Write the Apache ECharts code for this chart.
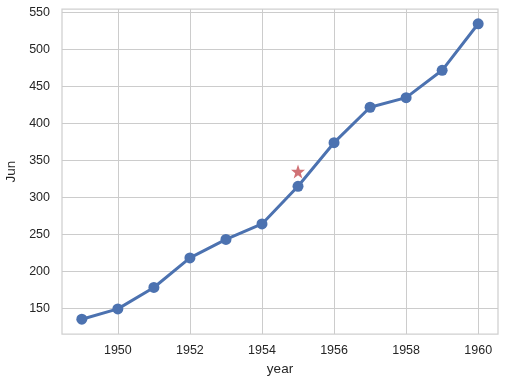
<!DOCTYPE html>
<html><head><meta charset="utf-8">
<script src="https://cdn.jsdelivr.net/npm/echarts@6/dist/echarts.min.js"></script>
<style>html,body{margin:0;padding:0;background:#fff}#c{width:507px;height:386px}</style>
</head><body><div id="c"></div>
<script>
const years = [1949,1950,1951,1952,1953,1954,1955,1956,1957,1958,1959,1960];
const jun = [135,149,178,218,243,264,315,374,422,435,472,535];
const starPoint = [[1955, 335]];
const xTicks = [1950,1952,1954,1956,1958,1960];
const yTicks = [150,200,250,300,350,400,450,500,550];

const chart = echarts.init(document.getElementById('c'), null, {renderer:'canvas'});
const font = 'Liberation Sans, Arial, sans-serif';
chart.setOption({
  animation:false,
  backgroundColor:'#fff',
  grid:{left:62,right:9,top:9,bottom:52,show:true,borderColor:'#d0d0d0',borderWidth:1.25,outerBoundsMode:'none',containLabel:false},
  xAxis:{type:'value',min:1948.45,max:1960.55,
    name:'year',nameLocation:'middle',nameGap:28,
    nameTextStyle:{color:'#262626',fontSize:13.5,fontFamily:font},
    axisLine:{show:false},
    axisTick:{show:false,customValues:xTicks},
    axisLabel:{customValues:xTicks,color:'#262626',fontSize:12.5,fontFamily:font,margin:10,formatter:v=>String(v)},
    splitLine:{show:true,lineStyle:{color:'#cccccc',width:1}}},
  yAxis:{type:'value',min:115,max:555,
    name:'Jun',nameLocation:'middle',nameGap:36,
    nameTextStyle:{color:'#262626',fontSize:13.5,fontFamily:font},
    axisLine:{show:false},
    axisTick:{show:false,customValues:yTicks},
    axisLabel:{customValues:yTicks,color:'#262626',fontSize:12.5,fontFamily:font,margin:12},
    splitLine:{show:true,lineStyle:{color:'#cccccc',width:1}}},
  series:[
    {type:'line',data:years.map((y,i)=>[y,jun[i]]),symbol:'circle',symbolSize:11,
     lineStyle:{color:'#4c72b0',width:3},itemStyle:{color:'#4c72b0'}},
    {type:'scatter',data:starPoint,
     symbol:'path://M0,-10 L2.35,-3.24 L9.51,-3.09 L3.8,1.24 L5.88,8.09 L0,4 L-5.88,8.09 L-3.8,1.24 L-9.51,-3.09 L-2.35,-3.24 Z',
     symbolSize:14,itemStyle:{color:'#c44e52'}}
  ]
});
</script></body></html>
